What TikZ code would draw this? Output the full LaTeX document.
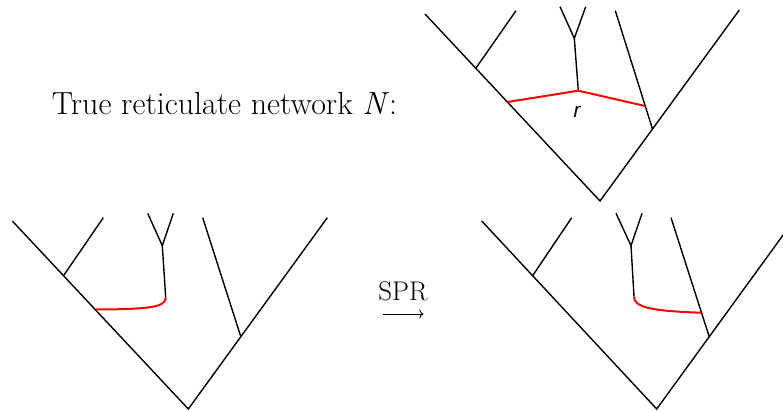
\documentclass[tikz,border=0pt]{standalone}
\usepackage{fontspec}
\usetikzlibrary{arrows.meta}
\newfontfamily\arialf{Liberation Sans}
\begin{document}
\begin{tikzpicture}[x=1pt,y=-1pt,
  edge/.style={line width=1.4pt,black},
  retic/.style={line width=2pt,red},
  lbl/.style={inner sep=0pt,font=\fontsize{32}{36}\selectfont}]
\useasboundingbox (0,0) rectangle (783,411);
\clip (0,0) rectangle (783,411);
% ---------- top network ----------
\coordinate (tL) at (425,14);
\coordinate (tR) at (739.3,10);
\coordinate (tRoot) at (600,201);
\coordinate (tA) at (475.8,68.3);
\coordinate (tAtip) at (516,10.7);
\coordinate (tH) at (507.5,102);
\coordinate (tr) at (578.3,90.7);
\coordinate (tY) at (574.3,38.3);
\coordinate (tY1) at (560,6.7);
\coordinate (tY2) at (585.7,6.7);
\coordinate (tI) at (615.3,10.7);
\coordinate (tIb) at (652.5,129);
\coordinate (tG) at (645.1,106);
\draw[edge] (tL) -- (tRoot) -- (tR);
\draw[edge] (tA) -- (tAtip);
\draw[edge] (tI) -- (tIb);
\draw[edge] (tY1) -- (tY) -- (tY2);
\draw[edge] (tY) -- (tr);
\draw[retic] (tH) -- (tr) -- (tG);
\node[inner sep=0pt,font=\arialf\itshape\fontsize{21}{24}\selectfont] (rlab) at (577,112) {r};
% ---------- bottom-left network ----------
\coordinate (aL) at (12.3,221);
\coordinate (aR) at (327.3,217.7);
\coordinate (aRoot) at (188.3,409);
\coordinate (aA) at (63.5,275.7);
\coordinate (aAtip) at (103.3,217.7);
\coordinate (aH) at (95.5,309.5);
\coordinate (aY) at (162.3,245.7);
\coordinate (aY1) at (147.7,213.3);
\coordinate (aY2) at (173.3,213.3);
\coordinate (aYb) at (165.7,297.7);
\coordinate (aI) at (202.7,217.7);
\coordinate (aIb) at (240.8,336.7);
\draw[edge] (aL) -- (aRoot) -- (aR);
\draw[edge] (aA) -- (aAtip);
\draw[edge] (aI) -- (aIb);
\draw[edge] (aY1) -- (aY) -- (aY2);
\draw[edge] (aY) -- (aYb);
\draw[retic] (aYb) .. controls (165.7,307) and (150,309.3) .. (aH);
% ---------- bottom-right network ----------
\coordinate (bL) at (481.7,221);
\coordinate (bR) at (795.7,217.7);
\coordinate (bRoot) at (656.7,409);
\coordinate (bA) at (532.6,275.7);
\coordinate (bAtip) at (571.7,217.7);
\coordinate (bY) at (631,245.7);
\coordinate (bY1) at (616,213.3);
\coordinate (bY2) at (642,213.3);
\coordinate (bYb) at (634,296.7);
\coordinate (bI) at (671,217.7);
\coordinate (bIb) at (709.2,336.7);
\coordinate (bG) at (700.8,312.7);
\draw[edge] (bL) -- (bRoot) -- (bR);
\draw[edge] (bA) -- (bAtip);
\draw[edge] (bI) -- (bIb);
\draw[edge] (bY1) -- (bY) -- (bY2);
\draw[edge] (bY) -- (bYb);
\draw[retic] (bYb) .. controls (634,307) and (650,311) .. (bG);
% ---------- labels ----------
\node[lbl,anchor=base] (title) at (224.5,114.3) {True reticulate network {\itshape N\/}:};
\node[lbl,anchor=base,font=\fontsize{27}{30}\selectfont] (spr) at (403,300.7) {SPR};
\coordinate (arrS) at (383,314);
\coordinate (arrE) at (423.5,314);
\draw[line width=0.9pt,-{Computer Modern Rightarrow[scale=1.2]}] (arrS) -- (arrE);
\end{tikzpicture}
\end{document}
